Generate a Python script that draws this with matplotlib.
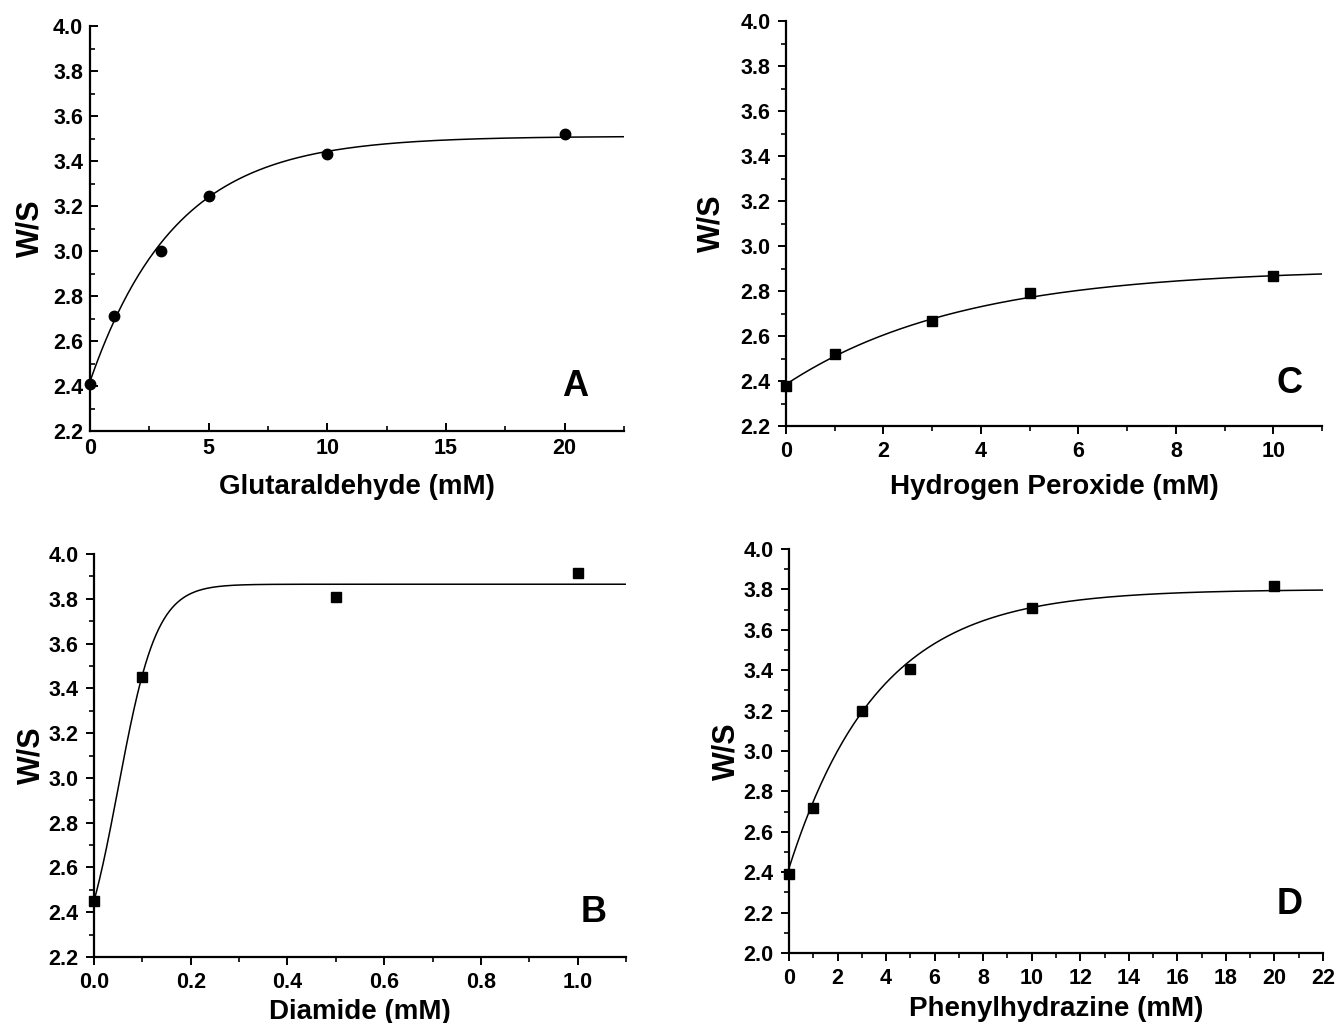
import numpy as np
import matplotlib
matplotlib.use("Agg")
import matplotlib.pyplot as plt
from matplotlib.ticker import MultipleLocator, FormatStrFormatter

plt.rcParams['font.family'] = ['Liberation Sans', 'DejaVu Sans']
plt.rcParams['font.weight'] = 'bold'

# ---- data ----
glut_x = [0, 1, 3, 5, 10, 20]
glut_y = [2.41, 2.71, 3.00, 3.245, 3.43, 3.52]

h2o2_x = [0, 1, 3, 5, 10]
h2o2_y = [2.38, 2.52, 2.665, 2.79, 2.865]

diam_x = [0.0, 0.1, 0.5, 1.0]
diam_y = [2.45, 3.45, 3.81, 3.915]

phen_x = [0, 1, 3, 5, 10, 20]
phen_y = [2.39, 2.72, 3.20, 3.405, 3.71, 3.815]

# fitted-curve parameters (exponential association: y = a - b*exp(-x/t))
glut_fit = (3.51, 1.09, 3.59)
h2o2_fit = (2.90, 0.515, 3.6)
phen_fit = (3.80, 1.38, 3.66)
# Boltzmann for diamide: y = A2 + (A1-A2)/(1+exp((x-x0)/dx))
diam_fit = (2.045, 3.865, 0.05, 0.04)

xlabels = ["Glutaraldehyde (mM)", "Hydrogen Peroxide (mM)", "Diamide (mM)", "Phenylhydrazine (mM)"]
letters = ["A", "C", "B", "D"]


def expassoc(x, p):
    a, b, t = p
    return a - b * np.exp(-x / t)


def boltz(x, p):
    a1, a2, x0, dx = p
    return a2 + (a1 - a2) / (1 + np.exp((x - x0) / dx))


W, H = 1337, 1023
fig = plt.figure(figsize=(W / 100, H / 100), dpi=100)


def make_ax(left, right, top, bottom):
    ax = fig.add_axes([left / W, 1 - bottom / H, (right - left) / W, (bottom - top) / H])
    ax._px = (left, right, top, bottom)
    return ax


axA = make_ax(90, 624, 26, 431)
axC = make_ax(786, 1322, 21, 426)
axB = make_ax(94, 626, 554, 957)
axD = make_ax(789, 1323, 549, 953)


def style(ax, xlim, ylim, xmaj, xmin, xfmt, direction, xlabel, letter, lx, ly,
          ylab_right, xlab_top):
    left, right, top, bottom = ax._px
    ax.set_xlim(*xlim)
    ax.set_ylim(*ylim)
    for s in ['top', 'right']:
        ax.spines[s].set_visible(False)
    for s in ['left', 'bottom']:
        ax.spines[s].set_linewidth(1.6)
    ax.xaxis.set_major_locator(MultipleLocator(xmaj))
    ax.xaxis.set_minor_locator(MultipleLocator(xmin))
    ax.yaxis.set_major_locator(MultipleLocator(0.2))
    ax.yaxis.set_minor_locator(MultipleLocator(0.1))
    ax.xaxis.set_major_formatter(FormatStrFormatter(xfmt))
    ax.yaxis.set_major_formatter(FormatStrFormatter('%.1f'))
    ax.tick_params(which='major', direction=direction, length=6, width=1.4, labelsize=15.5, pad=5)
    ax.tick_params(which='minor', direction=direction, length=3.5, width=1.2)
    for lab in ax.get_xticklabels() + ax.get_yticklabels():
        lab.set_fontweight('bold')
    ax.set_xlabel(xlabel, fontsize=20, fontweight='bold')
    ax.set_ylabel("W/S", fontsize=22, fontweight='bold')
    ax.yaxis.set_label_coords(-(left - ylab_right) / (right - left), 0.5)
    ax.xaxis.set_label_coords(0.5, -(xlab_top - bottom) / (bottom - top))
    ax.text(lx, ly, letter, transform=ax.transAxes, fontsize=26, fontweight='bold',
            ha='center', va='center')


# Panel A
xs = np.linspace(0, 22.5, 400)
axA.plot(xs, expassoc(xs, glut_fit), color='black', lw=1.1, zorder=2)
axA.plot(glut_x, glut_y, 'o', color='black', ms=7.5, clip_on=False, zorder=3)
style(axA, (0, 22.5), (2.2, 4.0), 5, 2.5, '%d', 'in', xlabels[0], letters[0], 0.908, 0.11,
      45, 474)
axA.set_xticks([0, 5, 10, 15, 20])

# Panel C
xs = np.linspace(0, 11, 400)
axC.plot(xs, expassoc(xs, h2o2_fit), color='black', lw=1.1, zorder=2)
axC.plot(h2o2_x, h2o2_y, 's', color='black', ms=6.5, clip_on=False, zorder=3)
style(axC, (0, 11), (2.2, 4.0), 2, 1, '%d', 'out', xlabels[1], letters[1], 0.94, 0.106,
      726, 474)
axC.set_xticks([0, 2, 4, 6, 8, 10])

# Panel B
xs = np.linspace(0, 1.1, 600)
axB.plot(xs, boltz(xs, diam_fit), color='black', lw=1.1, zorder=2)
axB.plot(diam_x, diam_y, 's', color='black', ms=6.5, clip_on=False, zorder=3)
style(axB, (0, 1.1), (2.2, 4.0), 0.2, 0.1, '%.1f', 'out', xlabels[2], letters[2], 0.94, 0.11,
      46, 999)
axB.set_xticks([0, 0.2, 0.4, 0.6, 0.8, 1.0])

# Panel D
xs = np.linspace(0, 22, 400)
axD.plot(xs, expassoc(xs, phen_fit), color='black', lw=1.1, zorder=2)
axD.plot(phen_x, phen_y, 's', color='black', ms=6.5, clip_on=False, zorder=3)
style(axD, (0, 22), (2.0, 4.0), 2, 1, '%d', 'out', xlabels[3], letters[3], 0.938, 0.119,
      741, 996)

fig.savefig("out.png", dpi=100)
